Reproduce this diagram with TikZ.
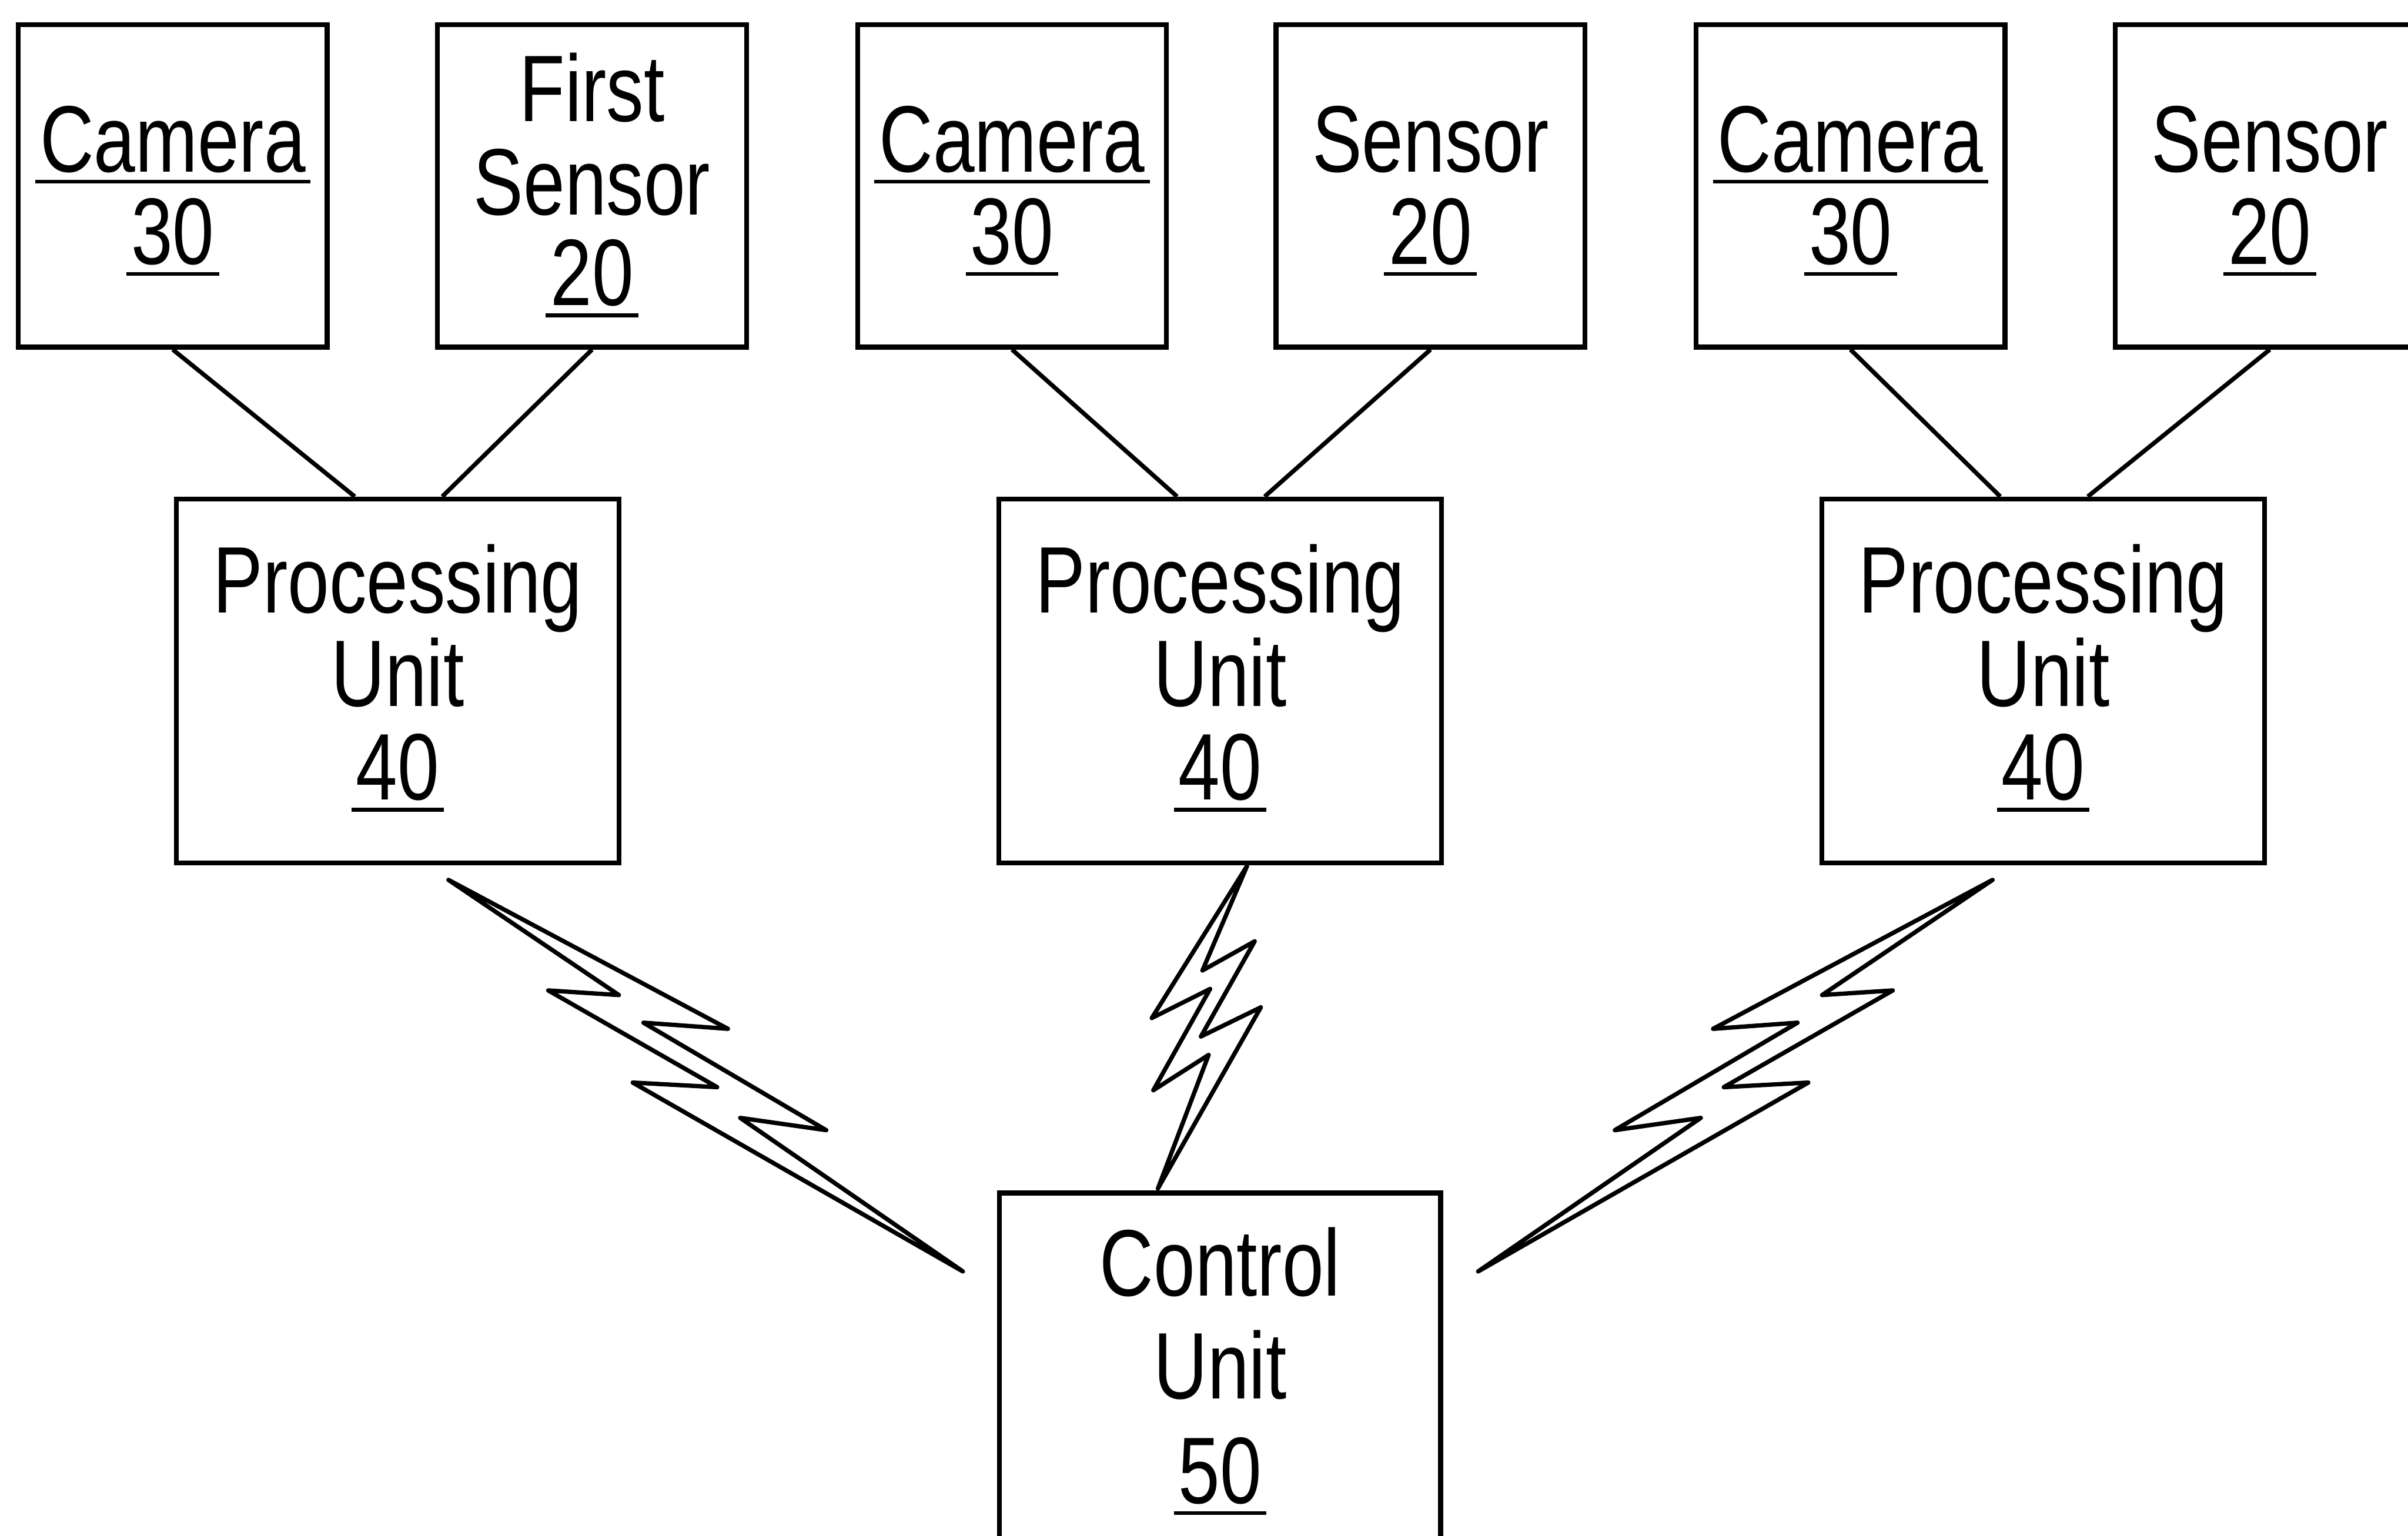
\documentclass[tikz,border=0pt]{standalone}
\usepackage{fontspec}
\setmainfont{Liberation Sans}[FakeStretch=0.79]
\begin{document}
\begin{tikzpicture}[x=0.01cm,y=-0.01cm,
    box/.style={draw,line width=0.9pt,inner sep=0pt},
    txt/.style={inner sep=0pt,anchor=base,font=\fontsize{17.5}{20}\selectfont},
    link/.style={line width=0.8pt},
    bolt/.style={line width=0.8pt,line join=round},
    uline/.style={line width=0.7pt}]
\useasboundingbox (0,0) rectangle (1568,1000);

% top row: cameras and sensors
\node[box,minimum width=2.01cm,minimum height=2.10cm] (cam1) at (112.5,121) {};
\node[box,minimum width=2.01cm,minimum height=2.10cm] (sen1) at (385.5,121) {};
\node[box,minimum width=2.01cm,minimum height=2.10cm] (cam2) at (659,121) {};
\node[box,minimum width=2.01cm,minimum height=2.10cm] (sen2) at (931.5,121) {};
\node[box,minimum width=2.01cm,minimum height=2.10cm] (cam3) at (1205,121) {};
\node[box,minimum width=2.01cm,minimum height=2.10cm] (sen3) at (1478,121) {};

% processing units and control unit
\node[box,minimum width=2.88cm,minimum height=2.37cm] (pu1) at (259,443.5) {};
\node[box,minimum width=2.88cm,minimum height=2.37cm] (pu2) at (794.5,443.5) {};
\node[box,minimum width=2.88cm,minimum height=2.37cm] (pu3) at (1330.5,443.5) {};
\node[box,minimum width=2.87cm,minimum height=3.00cm] (cu) at (794.5,927) {};

% labels
\newcommand\ulabel[1]{\draw[uline] ([xshift=-0.7pt,yshift=-1.8pt]#1.base west) -- ([xshift=0.7pt,yshift=-1.8pt]#1.base east);}
\foreach \n/\x in {1/112.5,2/659,3/1205}{
  \node[txt] (camA\n) at (\x,112) {Camera};
  \node[txt] (camB\n) at (\x,172) {30};
  \ulabel{camA\n}
  \ulabel{camB\n}
}
\node[txt] (sen1A) at (385.5,79) {First};
\node[txt] (sen1B) at (385.5,140) {Sensor};
\node[txt] (sen1C) at (385.5,199) {20};
\ulabel{sen1C}
\foreach \n/\x in {2/931.5,3/1478}{
  \node[txt] (senA\n) at (\x,112) {Sensor};
  \node[txt] (senB\n) at (\x,172) {20};
  \ulabel{senB\n}
}
\foreach \n/\x in {1/259,2/794.5,3/1330.5}{
  \node[txt] (puA\n) at (\x,399) {Processing};
  \node[txt] (puB\n) at (\x,460) {Unit};
  \node[txt] (puC\n) at (\x,521) {40};
  \ulabel{puC\n}
}
\node[txt] (cuA) at (794.5,844) {Control};
\node[txt] (cuB) at (794.5,911) {Unit};
\node[txt] (cuC) at (794.5,979) {50};
\ulabel{cuC}

% wired links
\draw[link] (cam1.south) -- ([xshift=-0.28cm]pu1.north);
\draw[link] (sen1.south) -- ([xshift=0.29cm]pu1.north);
\draw[link] (cam2.south) -- ([xshift=-0.28cm]pu2.north);
\draw[link] (sen2.south) -- ([xshift=0.29cm]pu2.north);
\draw[link] (cam3.south) -- ([xshift=-0.28cm]pu3.north);
\draw[link] (sen3.south) -- ([xshift=0.29cm]pu3.north);

% wireless links
\draw[bolt] (292,573) -- (474,670) -- (419,666) -- (538,736) -- (482,728) -- (627,828)
  -- (412,705) -- (467,708) -- (357,645) -- (403,648) -- cycle;
\draw[bolt] (1297.5,573) -- (1115.5,670) -- (1170.5,666) -- (1051.5,736) -- (1107.5,728) -- (962.5,828)
  -- (1177.5,705) -- (1122.5,708) -- (1232.5,645) -- (1186.5,648) -- cycle;
\draw[bolt] (812,564) -- (783,632) -- (817,613) -- (782,675) -- (821,656) -- (754,774)
  -- (787,687) -- (751,710) -- (788,644) -- (750,663) -- cycle;
\end{tikzpicture}
\end{document}
